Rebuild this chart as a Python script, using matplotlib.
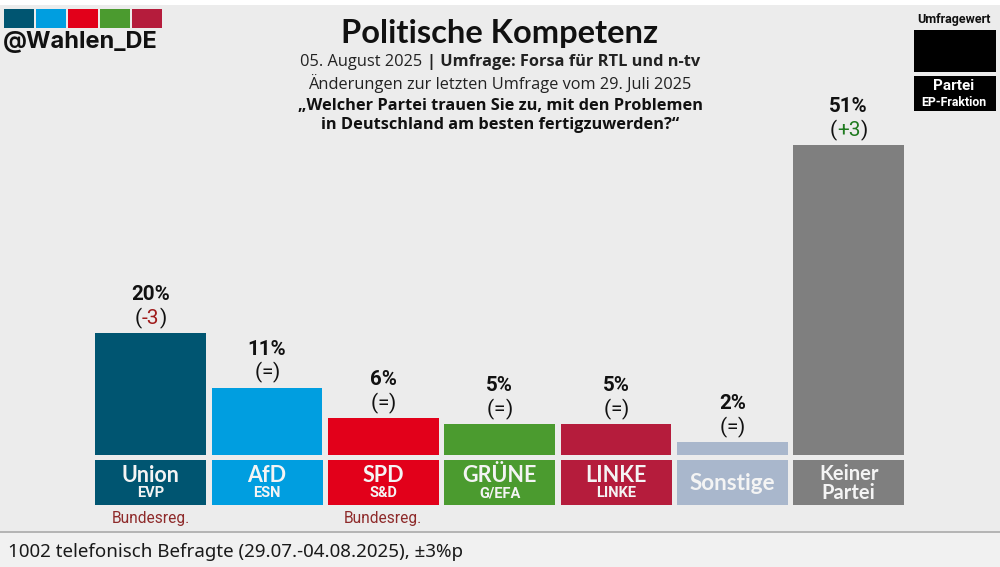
#!/usr/bin/env python3

import matplotlib
matplotlib.use("Agg")
import matplotlib.pyplot as plt
from matplotlib.patches import Rectangle

parties = ["Union", "AfD", "SPD", "GRÜNE", "LINKE", "Sonstige", "Keiner\nPartei"]
groups = ["EVP", "ESN", "S&D", "G/EFA", "LINKE", "", ""]
values = [20, 11, 6, 5, 5, 2, 51]
changes = ["-3", "=", "=", "=", "=", "=", "+3"]
colors = ["#005571", "#009ee0", "#e2001a", "#4b9b2f", "#b51c3c", "#a9b7cc", "#7f7f7f"]
govt = ["Bundesreg.", "", "Bundesreg.", "", "", "", ""]

BG = "#ececec"
W, H = 1000, 567

fig = plt.figure(figsize=(10, 5.67), dpi=100, facecolor=BG)

# pixel overlay for all the text and boxes
over = fig.add_axes([0, 0, 1, 1], zorder=2)
over.set_xlim(0, W)
over.set_ylim(H, 0)
over.axis("off")

# bars
base_px = 454.5
top_px = 145
left_px = 95.2
ax = fig.add_axes([left_px / W, 1 - base_px / H, 809 / W, (base_px - top_px) / H], zorder=1)
ax.bar(range(len(values)), values, width=0.953, color=colors)
ax.set_xlim(-0.477, 6.477)
ax.set_ylim(0, 51)
ax.axis("off")


def pieces(x, y, parts, size, family):
    # several differently styled runs on one centred line
    r = fig.canvas.get_renderer()
    items = []
    total = 0
    for s, weight, col in parts:
        t = over.text(0, y, s, fontsize=size, family=family, fontweight=weight,
                      color=col, ha="left", va="center")
        w = t.get_window_extent(r).width
        items.append((t, w))
        total += w
    cur = x - total / 2
    for t, w in items:
        t.set_x(cur)
        cur += w


# white strip on top, footer
over.add_patch(Rectangle((0, 0), W, 5, color="white", lw=0))
over.add_patch(Rectangle((0, 531), W, 2, color="#b5b5b5", lw=0))
over.add_patch(Rectangle((0, 533), W, 34, color="#f1f1f1", lw=0))
over.text(8, 552, "1002 telefonisch Befragte (29.07.-04.08.2025), ±3%p", fontsize=13.5,
          family="Noto Sans", color="#1a1a1a", va="center")

# logo
for i, c in enumerate(colors[:5]):
    over.add_patch(Rectangle((3.5 + i * 32, 9), 30, 19, color=c, lw=0))
over.text(3, 42, "@Wahlen_DE", fontsize=17, family="Inter", fontweight="bold",
          color="#111111", va="center")

# header
over.text(500, 33, "Politische Kompetenz", fontsize=23.5, family="Lato", fontweight="bold",
          color="#111111", ha="center", va="center")
pieces(500, 61.5, [("05. August 2025 ", "normal", "#222222"), ("| Umfrage: Forsa für RTL und n-tv", "bold", "#222222")],
       11.75, "Open Sans")
over.text(500, 84, "Änderungen zur letzten Umfrage vom 29. Juli 2025", fontsize=11.8,
          family="Open Sans", color="#222222", ha="center", va="center")
over.text(500, 106, "„Welcher Partei trauen Sie zu, mit den Problemen", fontsize=11.8,
          family="Open Sans", fontweight="bold", color="#111111", ha="center", va="center")
over.text(500, 125, "in Deutschland am besten fertigzuwerden?“", fontsize=11.8,
          family="Open Sans", fontweight="bold", color="#111111", ha="center", va="center")

# legend box
over.text(954, 19, "Umfragewert", fontsize=9, family="Roboto", fontweight="bold",
          color="#111111", ha="center", va="center")
over.add_patch(Rectangle((913.5, 30), 82, 42, color="black", lw=0))
over.add_patch(Rectangle((913.5, 76), 82, 35, color="black", lw=0))
over.text(954, 86, "Partei", fontsize=11, family="Roboto", fontweight="bold",
          color="white", ha="center", va="center")
over.text(954, 102.5, "EP-Fraktion", fontsize=8.9, family="Roboto", fontweight="bold",
          color="white", ha="center", va="center")

# value labels, party boxes
for i, val in enumerate(values):
    cx = left_px + 809 * (i + 0.477) / 6.954
    top = base_px - (base_px - top_px) * val / 51
    over.text(cx, top - 38.5, f"{val}%", fontsize=14.8, family="Roboto", fontweight="bold",
              color="#111111", ha="center", va="center")
    ch = changes[i]
    ch_col = {"-": "#a01c1c", "+": "#1f7a1f"}.get(ch[0], "#111111")
    pieces(cx, top - 15, [("(", "normal", "#111111"), (ch, "normal", ch_col), (")", "normal", "#111111")],
           15, "Roboto")

    over.add_patch(Rectangle((cx - 55.5, 460), 111, 45, color=colors[i], lw=0))
    if "\n" in parties[i]:
        over.text(cx, 483.5, parties[i], fontsize=14.5, family="Lato", fontweight="bold", color="#f4f4f4",
                  ha="center", va="center", linespacing=0.95)
    elif groups[i]:
        over.text(cx, 475.5, parties[i], fontsize=15.5, family="Lato", fontweight="bold", color="#f4f4f4",
                  ha="center", va="center")
        over.text(cx, 493, groups[i], fontsize=10.5, family="Roboto", fontweight="bold", color="#f4f4f4",
                  ha="center", va="center")
    else:
        over.text(cx, 483, parties[i], fontsize=16.2, family="Lato", fontweight="bold", color="#f4f4f4",
                  ha="center", va="center")
    if govt[i]:
        over.text(cx, 518, govt[i], fontsize=11.2, family="Roboto", color="#8e2a2a",
                  ha="center", va="center")

fig.savefig("out.png", dpi=100, facecolor=BG)
